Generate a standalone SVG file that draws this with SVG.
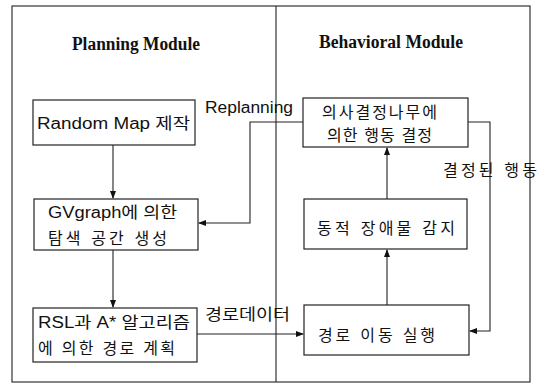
<svg xmlns="http://www.w3.org/2000/svg" width="540" height="392" viewBox="0 0 540 392">
<defs>
<marker id="ah" markerWidth="8" markerHeight="6" refX="7" refY="3" orient="auto" markerUnits="userSpaceOnUse">
<path d="M0,0 L8,3 L0,6 Z" fill="#111"/>
</marker>
<style>
.frame{fill:none;stroke:#333;stroke-width:1.2}
.box{fill:#fff;stroke:#222;stroke-width:1.2}
.ln{fill:none;stroke:#222;stroke-width:1.1}
.title{font-family:"Liberation Serif","Times New Roman",serif;font-weight:bold;font-size:18px;fill:#111}
.t{font-family:"Liberation Sans","Noto Sans CJK KR",sans-serif;font-size:16px;fill:#111}
</style>
</defs>
<rect width="540" height="392" fill="#fff"/>
<g id="frame">
<rect class="frame" x="12" y="6" width="518" height="376"/>
<line class="frame" x1="276" y1="6" x2="276" y2="382"/>
<text class="title" x="72" y="50" textLength="128" lengthAdjust="spacingAndGlyphs">Planning Module</text>
<text class="title" x="319" y="48" textLength="144" lengthAdjust="spacingAndGlyphs">Behavioral Module</text>
</g>
<g id="connectors">
<line class="ln" x1="113" y1="145" x2="113" y2="198" marker-end="url(#ah)"/>
<line class="ln" x1="113" y1="250" x2="113" y2="307" marker-end="url(#ah)"/>
<polyline class="ln" points="303,122 250,122 250,223 199,223" marker-end="url(#ah)"/>
<line class="ln" x1="197" y1="334" x2="303" y2="334" marker-end="url(#ah)"/>
<line class="ln" x1="387" y1="305" x2="387" y2="250" marker-end="url(#ah)"/>
<line class="ln" x1="387" y1="199" x2="387" y2="148" marker-end="url(#ah)"/>
<polyline class="ln" points="467,122 490,122 490,331 470,331" marker-end="url(#ah)"/>
<text class="t" x="205" y="113" textLength="88" lengthAdjust="spacingAndGlyphs">Replanning</text>
<text class="t" x="205" y="320" textLength="85" lengthAdjust="spacingAndGlyphs">경로데이터</text>
<text class="t" x="443" y="176" textLength="94" lengthAdjust="spacing">결정된 행동</text>
</g>
<g id="n1">
<rect class="box" x="33" y="100" width="162" height="45"/>
<text class="t" x="37" y="129" textLength="153" lengthAdjust="spacingAndGlyphs">Random Map 제작</text>
</g>
<g id="n2">
<rect class="box" x="34" y="199" width="164" height="51"/>
<text class="t" x="48" y="218" textLength="129" lengthAdjust="spacingAndGlyphs">GVgraph에 의한</text>
<text class="t" x="48" y="244" textLength="119" lengthAdjust="spacing">탐색 공간 생성</text>
</g>
<g id="n3">
<rect class="box" x="33" y="308" width="164" height="54"/>
<text class="t" x="38" y="328" textLength="152" lengthAdjust="spacingAndGlyphs">RSL과 A* 알고리즘</text>
<text class="t" x="38" y="354" textLength="137" lengthAdjust="spacing">에 의한 경로 계획</text>
</g>
<g id="n4">
<rect class="box" x="303" y="98" width="165" height="49"/>
<text class="t" x="322" y="118" textLength="115" lengthAdjust="spacing">의사결정나무에</text>
<text class="t" x="327" y="141" textLength="105" lengthAdjust="spacing">의한 행동 결정</text>
</g>
<g id="n5">
<rect class="box" x="304" y="199" width="163" height="50"/>
<text class="t" x="317" y="234" textLength="138" lengthAdjust="spacing">동적 장애물  감지</text>
</g>
<g id="n6">
<rect class="box" x="304" y="305" width="165" height="50"/>
<text class="t" x="318" y="341" textLength="117" lengthAdjust="spacing">경로 이동 실행</text>
</g>
</svg>
